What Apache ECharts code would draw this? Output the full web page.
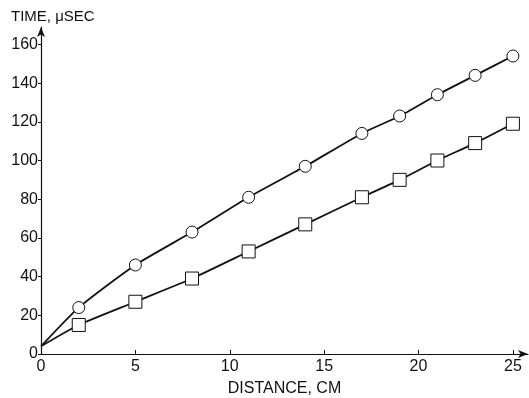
<!DOCTYPE html>
<html>
<head>
<meta charset="utf-8">
<script src="https://cdn.jsdelivr.net/npm/echarts@6/dist/echarts.min.js"></script>
<style>
  html, body { margin: 0; padding: 0; background: #fff; }
  #chart { width: 529px; height: 398px; }
</style>
</head>
<body>
<div id="chart"></div>
<script>
// distance (cm) of each measured point
const distance = [2, 5, 8, 11, 14, 17, 19, 21, 23, 25];
// time (usec), circle series
const circleTime = [24, 46, 63, 81, 97, 114, 123, 134, 144, 154];
// time (usec), square series
const squareTime = [15, 27, 39, 53, 67, 81, 90, 100, 109, 119];
// both curves start here at distance 0
const startTime = 4;

const font = 'Liberation Sans';

function buildData(times) {
  const pts = [{ value: [0, startTime], symbol: 'none' }];
  distance.forEach((d, i) => pts.push([d, times[i]]));
  return pts;
}

const chart = echarts.init(document.getElementById('chart'));
chart.setOption({
  animation: false,
  backgroundColor: '#fff',
  grid: { left: 41, right: 1, top: 27, bottom: 44, containLabel: false, outerBoundsMode: 'none' },
  xAxis: {
    type: 'value', min: 0, max: 25.8, interval: 5,
    name: 'DISTANCE, CM', nameLocation: 'middle', nameGap: 27,
    nameTextStyle: { color: '#111', fontFamily: font, fontSize: 16 },
    axisLine: { lineStyle: { color: '#111', width: 1.2 }, symbol: ['none', 'arrow'], symbolSize: [6, 10] },
    axisTick: { inside: true, length: 4, lineStyle: { color: '#111' } },
    axisLabel: { color: '#111', fontFamily: font, fontSize: 16, margin: 5, showMaxLabel: false },
    splitLine: { show: false }
  },
  yAxis: {
    type: 'value', min: 0, max: 169, interval: 20,
    name: 'TIME, \u03bcSEC', nameLocation: 'end', nameGap: 3,
    nameTextStyle: { color: '#111', fontFamily: font, fontSize: 15, align: 'left', padding: [0, 0, 0, -30] },
    axisLine: { lineStyle: { color: '#111', width: 1.2 }, symbol: ['none', 'arrow'], symbolSize: [6, 10] },
    axisTick: { inside: false, length: 3, lineStyle: { color: '#111' } },
    axisLabel: { color: '#111', fontFamily: font, fontSize: 16, margin: 3, showMaxLabel: false },
    splitLine: { show: false }
  },
  series: [
    {
      type: 'line', data: buildData(circleTime), smooth: 0.2,
      symbol: 'circle', symbolSize: 12,
      lineStyle: { color: '#111', width: 1.8 },
      itemStyle: { color: '#fff', borderColor: '#111', borderWidth: 1 }
    },
    {
      type: 'line', data: buildData(squareTime), smooth: 0.2,
      symbol: 'rect', symbolSize: 13,
      lineStyle: { color: '#111', width: 1.8 },
      itemStyle: { color: '#fff', borderColor: '#111', borderWidth: 1 }
    }
  ]
});
</script>
</body>
</html>
